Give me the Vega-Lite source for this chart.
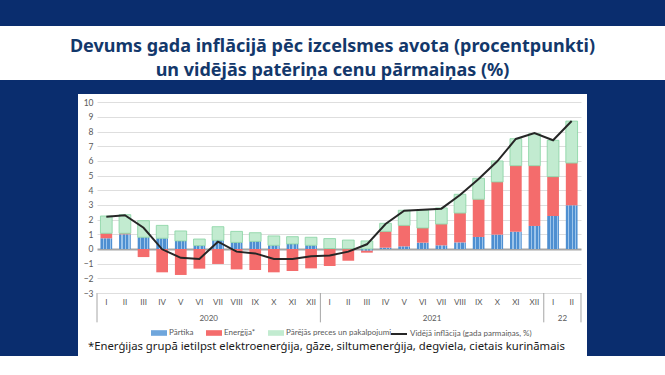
{
  "$schema": "https://vega.github.io/schema/vega-lite/v6.json",
  "background": "#0a2d6e",
  "padding": {"left": 0, "top": 26, "right": 0, "bottom": 0},
  "spacing": 14,
  "center": true,
  "config": {
    "view": {"fill": "white", "stroke": null},
    "font": "Noto Sans"
  },
  "datasets": {
    "bars": [
      {"m": "2020-I", "s": "Pārtika", "o": 1, "v": 0.73}, {"m": "2020-I", "s": "Enerģija*", "o": 2, "v": 0.34}, {"m": "2020-I", "s": "Pārējās preces un pakalpojumi", "o": 3, "v": 1.18},
      {"m": "2020-II", "s": "Pārtika", "o": 1, "v": 1.0}, {"m": "2020-II", "s": "Enerģija*", "o": 2, "v": 0.07}, {"m": "2020-II", "s": "Pārējās preces un pakalpojumi", "o": 3, "v": 1.27},
      {"m": "2020-III", "s": "Pārtika", "o": 1, "v": 0.8}, {"m": "2020-III", "s": "Enerģija*", "o": 2, "v": -0.55}, {"m": "2020-III", "s": "Pārējās preces un pakalpojumi", "o": 3, "v": 1.13},
      {"m": "2020-IV", "s": "Pārtika", "o": 1, "v": 0.73}, {"m": "2020-IV", "s": "Enerģija*", "o": 2, "v": -1.59}, {"m": "2020-IV", "s": "Pārējās preces un pakalpojumi", "o": 3, "v": 0.88},
      {"m": "2020-V", "s": "Pārtika", "o": 1, "v": 0.55}, {"m": "2020-V", "s": "Enerģija*", "o": 2, "v": -1.77}, {"m": "2020-V", "s": "Pārējās preces un pakalpojumi", "o": 3, "v": 0.68},
      {"m": "2020-VI", "s": "Pārtika", "o": 1, "v": 0.23}, {"m": "2020-VI", "s": "Enerģija*", "o": 2, "v": -1.34}, {"m": "2020-VI", "s": "Pārējās preces un pakalpojumi", "o": 3, "v": 0.45},
      {"m": "2020-VII", "s": "Pārtika", "o": 1, "v": 0.59}, {"m": "2020-VII", "s": "Enerģija*", "o": 2, "v": -1.02}, {"m": "2020-VII", "s": "Pārējās preces un pakalpojumi", "o": 3, "v": 0.93},
      {"m": "2020-VIII", "s": "Pārtika", "o": 1, "v": 0.45}, {"m": "2020-VIII", "s": "Enerģija*", "o": 2, "v": -1.39}, {"m": "2020-VIII", "s": "Pārējās preces un pakalpojumi", "o": 3, "v": 0.75},
      {"m": "2020-IX", "s": "Pārtika", "o": 1, "v": 0.52}, {"m": "2020-IX", "s": "Enerģija*", "o": 2, "v": -1.43}, {"m": "2020-IX", "s": "Pārējās preces un pakalpojumi", "o": 3, "v": 0.59},
      {"m": "2020-X", "s": "Pārtika", "o": 1, "v": 0.25}, {"m": "2020-X", "s": "Enerģija*", "o": 2, "v": -1.59}, {"m": "2020-X", "s": "Pārējās preces un pakalpojumi", "o": 3, "v": 0.64},
      {"m": "2020-XI", "s": "Pārtika", "o": 1, "v": 0.34}, {"m": "2020-XI", "s": "Enerģija*", "o": 2, "v": -1.5}, {"m": "2020-XI", "s": "Pārējās preces un pakalpojumi", "o": 3, "v": 0.5},
      {"m": "2020-XII", "s": "Pārtika", "o": 1, "v": 0.25}, {"m": "2020-XII", "s": "Enerģija*", "o": 2, "v": -1.32}, {"m": "2020-XII", "s": "Pārējās preces un pakalpojumi", "o": 3, "v": 0.55},
      {"m": "2021-I", "s": "Pārtika", "o": 1, "v": 0.03}, {"m": "2021-I", "s": "Enerģija*", "o": 2, "v": -1.16}, {"m": "2021-I", "s": "Pārējās preces un pakalpojumi", "o": 3, "v": 0.68},
      {"m": "2021-II", "s": "Pārtika", "o": 1, "v": 0.02}, {"m": "2021-II", "s": "Enerģija*", "o": 2, "v": -0.8}, {"m": "2021-II", "s": "Pārējās preces un pakalpojumi", "o": 3, "v": 0.59},
      {"m": "2021-III", "s": "Pārtika", "o": 1, "v": -0.12}, {"m": "2021-III", "s": "Enerģija*", "o": 2, "v": -0.13}, {"m": "2021-III", "s": "Pārējās preces un pakalpojumi", "o": 3, "v": 0.55},
      {"m": "2021-IV", "s": "Pārtika", "o": 1, "v": 0.09}, {"m": "2021-IV", "s": "Enerģija*", "o": 2, "v": 1.11}, {"m": "2021-IV", "s": "Pārējās preces un pakalpojumi", "o": 3, "v": 0.55},
      {"m": "2021-V", "s": "Pārtika", "o": 1, "v": 0.18}, {"m": "2021-V", "s": "Enerģija*", "o": 2, "v": 1.43}, {"m": "2021-V", "s": "Pārējās preces un pakalpojumi", "o": 3, "v": 1.03},
      {"m": "2021-VI", "s": "Pārtika", "o": 1, "v": 0.43}, {"m": "2021-VI", "s": "Enerģija*", "o": 2, "v": 1.0}, {"m": "2021-VI", "s": "Pārējās preces un pakalpojumi", "o": 3, "v": 1.21},
      {"m": "2021-VII", "s": "Pārtika", "o": 1, "v": 0.25}, {"m": "2021-VII", "s": "Enerģija*", "o": 2, "v": 1.45}, {"m": "2021-VII", "s": "Pārējās preces un pakalpojumi", "o": 3, "v": 1.1},
      {"m": "2021-VIII", "s": "Pārtika", "o": 1, "v": 0.45}, {"m": "2021-VIII", "s": "Enerģija*", "o": 2, "v": 2.0}, {"m": "2021-VIII", "s": "Pārējās preces un pakalpojumi", "o": 3, "v": 1.28},
      {"m": "2021-IX", "s": "Pārtika", "o": 1, "v": 0.82}, {"m": "2021-IX", "s": "Enerģija*", "o": 2, "v": 2.57}, {"m": "2021-IX", "s": "Pārējās preces un pakalpojumi", "o": 3, "v": 1.43},
      {"m": "2021-X", "s": "Pārtika", "o": 1, "v": 0.98}, {"m": "2021-X", "s": "Enerģija*", "o": 2, "v": 3.59}, {"m": "2021-X", "s": "Pārējās preces un pakalpojumi", "o": 3, "v": 1.43},
      {"m": "2021-XI", "s": "Pārtika", "o": 1, "v": 1.18}, {"m": "2021-XI", "s": "Enerģija*", "o": 2, "v": 4.5}, {"m": "2021-XI", "s": "Pārējās preces un pakalpojumi", "o": 3, "v": 1.84},
      {"m": "2021-XII", "s": "Pārtika", "o": 1, "v": 1.57}, {"m": "2021-XII", "s": "Enerģija*", "o": 2, "v": 4.11}, {"m": "2021-XII", "s": "Pārējās preces un pakalpojumi", "o": 3, "v": 2.18},
      {"m": "2022-I", "s": "Pārtika", "o": 1, "v": 2.25}, {"m": "2022-I", "s": "Enerģija*", "o": 2, "v": 2.68}, {"m": "2022-I", "s": "Pārējās preces un pakalpojumi", "o": 3, "v": 2.48},
      {"m": "2022-II", "s": "Pārtika", "o": 1, "v": 2.98}, {"m": "2022-II", "s": "Enerģija*", "o": 2, "v": 2.88}, {"m": "2022-II", "s": "Pārējās preces un pakalpojumi", "o": 3, "v": 2.86}
    ],
    "months": [
      {"m": "2020-I", "mon": "I", "infl": 2.2}, {"m": "2020-II", "mon": "II", "infl": 2.3}, {"m": "2020-III", "mon": "III", "infl": 1.45},
      {"m": "2020-IV", "mon": "IV", "infl": -0.02}, {"m": "2020-V", "mon": "V", "infl": -0.6}, {"m": "2020-VI", "mon": "VI", "infl": -0.68},
      {"m": "2020-VII", "mon": "VII", "infl": 0.5}, {"m": "2020-VIII", "mon": "VIII", "infl": -0.18}, {"m": "2020-IX", "mon": "IX", "infl": -0.3},
      {"m": "2020-X", "mon": "X", "infl": -0.68}, {"m": "2020-XI", "mon": "XI", "infl": -0.68}, {"m": "2020-XII", "mon": "XII", "infl": -0.5},
      {"m": "2021-I", "mon": "I", "infl": -0.44}, {"m": "2021-II", "mon": "II", "infl": -0.18}, {"m": "2021-III", "mon": "III", "infl": 0.32},
      {"m": "2021-IV", "mon": "IV", "infl": 1.7}, {"m": "2021-V", "mon": "V", "infl": 2.61}, {"m": "2021-VI", "mon": "VI", "infl": 2.68},
      {"m": "2021-VII", "mon": "VII", "infl": 2.75}, {"m": "2021-VIII", "mon": "VIII", "infl": 3.68}, {"m": "2021-IX", "mon": "IX", "infl": 4.77},
      {"m": "2021-X", "mon": "X", "infl": 5.98}, {"m": "2021-XI", "mon": "XI", "infl": 7.5}, {"m": "2021-XII", "mon": "XII", "infl": 7.9},
      {"m": "2022-I", "mon": "I", "infl": 7.41}, {"m": "2022-II", "mon": "II", "infl": 8.73}
    ],
    "years": [
      {"m": "2020-VI", "yr": "2020"}, {"m": "2021-VI", "yr": "2021"}, {"m": "2022-I", "yr": "22"}
    ],
    "divLeft": [{"m": "2020-I"}, {"m": "2021-I"}, {"m": "2022-I"}],
    "divRight": [{"m": "2022-II"}]
  },
  "vconcat": [
    {
      "width": 665,
      "height": 54,
      "data": {"values": [
        {"line": 1, "t": "Devums gada inflācijā pēc izcelsmes avota (procentpunkti)"},
        {"line": 2, "t": "un vidējās patēriņa cenu pārmaiņas (%)"}
      ]},
      "mark": {"type": "text", "font": "Noto Sans", "fontWeight": "bold", "fontSize": 18, "color": "#13386b", "baseline": "middle", "dy": 6},
      "encoding": {
        "y": {"field": "line", "type": "ordinal", "axis": null, "scale": {"padding": 0.625}},
        "text": {"field": "t"}
      }
    },
    {
      "width": 509,
      "height": 262,
      "title": {"text": "*Enerģijas grupā ietilpst elektroenerģija, gāze, siltumenerģija, degviela, cietais kurināmais", "orient": "bottom", "anchor": "start", "frame": "group", "offset": -9, "dx": 10, "baseline": "middle", "font": "Noto Sans", "fontSize": 11.3, "fontWeight": "normal", "color": "#1a1a1a"},
      "layer": [
        {
          "data": {"name": "bars"},
          "mark": {"type": "bar", "strokeWidth": 0.8},
          "encoding": {
            "x": {"field": "m", "type": "nominal", "axis": null,
                  "scale": {"domain": ["2020-I","2020-II","2020-III","2020-IV","2020-V","2020-VI","2020-VII","2020-VIII","2020-IX","2020-X","2020-XI","2020-XII","2021-I","2021-II","2021-III","2021-IV","2021-V","2021-VI","2021-VII","2021-VIII","2021-IX","2021-X","2021-XI","2021-XII","2022-I","2022-II"],
                            "range": [19, 503], "paddingInner": 0.37, "paddingOuter": 0.185}},
            "y": {"field": "v", "type": "quantitative", "stack": "zero", "title": null,
                  "scale": {"domain": [-7.294, 10.566], "nice": false, "zero": false},
                  "axis": {"values": [-3,-2,-1,0,1,2,3,4,5,6,7,8,9,10], "tickCount": 30, "format": "d", "orient": "left", "offset": -19, "domain": false, "ticks": false, "title": null, "labelPadding": 4,
                           "labelOverlap": false, "grid": true,
                           "gridColor": {"condition": {"test": "datum.value === 0", "value": "#a6a6a6"}, "value": "#dedede"},
                           "gridWidth": {"condition": {"test": "datum.value === 0", "value": 2}, "value": 1},
                           "labelFont": "Lato", "labelFontSize": 8.5, "labelColor": "#595959"}},
            "fill": {
              "condition": {"test": "datum.s === 'Pārtika'", "value": {"gradient": "linear", "x1": 0, "y1": 0, "x2": 1, "y2": 0, "stops": [
                {"offset": 0, "color": "#4e8fd1"}, {"offset": 0.2, "color": "#4e8fd1"}, {"offset": 0.2, "color": "#9cc4ea"}, {"offset": 0.3, "color": "#9cc4ea"},
                {"offset": 0.3, "color": "#4e8fd1"}, {"offset": 0.5, "color": "#4e8fd1"}, {"offset": 0.5, "color": "#9cc4ea"}, {"offset": 0.6, "color": "#9cc4ea"},
                {"offset": 0.6, "color": "#4e8fd1"}, {"offset": 0.8, "color": "#4e8fd1"}, {"offset": 0.8, "color": "#9cc4ea"}, {"offset": 0.9, "color": "#9cc4ea"},
                {"offset": 0.9, "color": "#4e8fd1"}, {"offset": 1, "color": "#4e8fd1"}]}},
              "field": "s", "type": "nominal",
              "scale": {"domain": ["Pārtika", "Enerģija*", "Pārējās preces un pakalpojumi"], "range": ["#6fa6dc", "#f46c6c", "#c2ebd0"]},
              "legend": {"orient": "none", "legendX": 151, "legendY": 299, "direction": "horizontal", "title": null,
                         "symbolType": "M-1,-0.35H1V0.35H-1Z", "symbolSize": 256, "symbolStrokeWidth": 0,
                         "labelFont": "Lato", "labelFontSize": 8, "labelColor": "#595959", "columnPadding": 12, "labelOffset": 2}
            },
            "stroke": {"condition": {"test": "datum.s === 'Pārējās preces un pakalpojumi'", "value": "#86d3a2"}, "value": null},
            "order": {"field": "o", "type": "quantitative"}
          }
        },
        {
          "data": {"name": "months"},
          "mark": {"type": "line", "strokeWidth": 2},
          "encoding": {
            "x": {"field": "m", "type": "nominal", "axis": null},
            "y": {"field": "infl", "type": "quantitative", "title": null},
            "stroke": {"datum": "Vidējā inflācija (gada parmaiņas, %)", "type": "nominal",
                       "scale": {"range": ["#262626"]},
                       "legend": {"orient": "none", "legendX": 390, "legendY": 299, "title": null,
                                  "symbolType": "stroke", "symbolSize": 256, "symbolStrokeWidth": 2,
                                  "labelFont": "Lato", "labelFontSize": 8, "labelColor": "#595959", "labelOffset": 2}}
          }
        },
        {
          "data": {"name": "months"},
          "mark": {"type": "text", "font": "Lato", "fontSize": 8, "color": "#595959", "baseline": "middle"},
          "encoding": {
            "x": {"field": "m", "type": "nominal", "axis": null},
            "y": {"datum": -3.65},
            "text": {"field": "mon"}
          }
        },
        {
          "data": {"name": "years"},
          "mark": {"type": "text", "font": "Lato", "fontSize": 8, "color": "#595959", "baseline": "middle"},
          "encoding": {
            "x": {"field": "m", "type": "nominal", "axis": null, "bandPosition": 1.2936},
            "y": {"datum": -4.8},
            "text": {"field": "yr"}
          }
        },
        {
          "data": {"name": "divLeft"},
          "mark": {"type": "rule", "color": "#a6a6a6", "strokeWidth": 1},
          "encoding": {
            "x": {"field": "m", "type": "nominal", "axis": null, "bandPosition": -0.2936},
            "y": {"datum": -3},
            "y2": {"datum": -5}
          }
        },
        {
          "data": {"name": "divRight"},
          "mark": {"type": "rule", "color": "#a6a6a6", "strokeWidth": 1},
          "encoding": {
            "x": {"field": "m", "type": "nominal", "axis": null, "bandPosition": 1.2936},
            "y": {"datum": -3},
            "y2": {"datum": -5}
          }
        }
      ]
    }
  ]
}
